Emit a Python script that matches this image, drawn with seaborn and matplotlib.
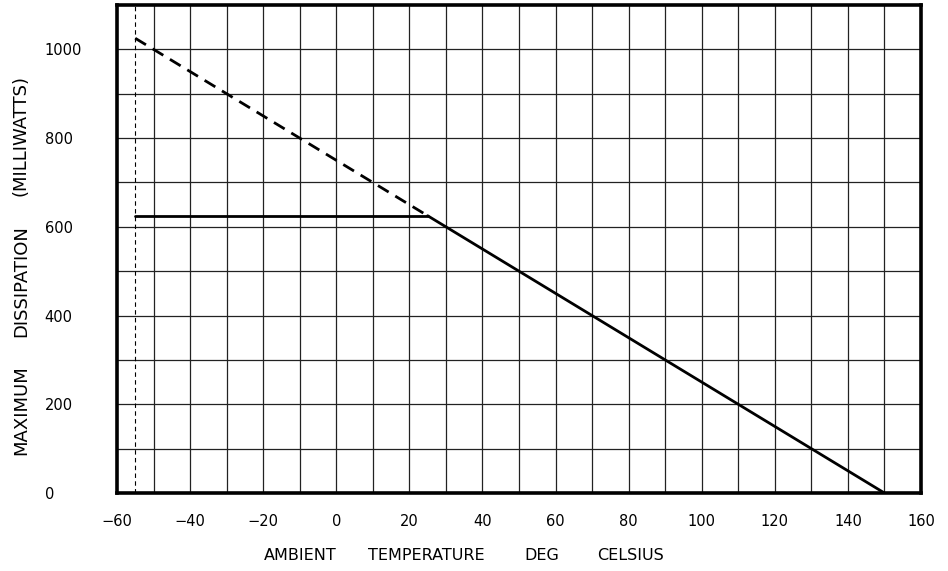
import matplotlib
matplotlib.use("Agg")
import matplotlib.pyplot as plt
import seaborn as sns
import pandas as pd
import numpy as np

# Data
temp_derate = [25, 150]
power_derate = [625, 0]
temp_flat = [-55, 25]
power_flat = [625, 625]
temp_extrap = [-55, 25]
power_extrap = [1025, 625]
min_temp = -55

x_ticks = [-60, -40, -20, 0, 20, 40, 60, 80, 100, 120, 140, 160]
y_ticks = [0, 200, 400, 600, 800, 1000]
x_label_words = ["AMBIENT", "TEMPERATURE", "DEG", "CELSIUS"]
y_label_words = ["MAXIMUM", "DISSIPATION", "(MILLIWATTS)"]

sns.set_theme(style="white")
plt.rcParams['font.family'] = ['DejaVu Sans']

W, H = 948, 571
fig = plt.figure(figsize=(W/100, H/100), dpi=100)
ax = fig.add_axes([117/W, 1-493/H, (921-117)/W, (493-5)/H])

df_d = pd.DataFrame({"t": temp_derate, "p": power_derate})
df_f = pd.DataFrame({"t": temp_flat, "p": power_flat})
df_e = pd.DataFrame({"t": temp_extrap, "p": power_extrap})

# grid
for xv in np.arange(-50, 160, 10):
    ax.axvline(xv, color="#222222", lw=0.9, zorder=1)
for yv in np.arange(100, 1100, 100):
    ax.axhline(yv, color="#222222", lw=0.9, zorder=1)
ax.axvline(min_temp, color="black", lw=0.8, ls=(0, (4, 3)), zorder=2)

sns.lineplot(data=df_e, x="t", y="p", ax=ax, color="black", lw=2.0,
             linestyle=(0, (4.5, 2.8)), zorder=3)
sns.lineplot(data=df_f, x="t", y="p", ax=ax, color="black", lw=2.0, zorder=3)
sns.lineplot(data=df_d, x="t", y="p", ax=ax, color="black", lw=2.0, zorder=3)

ax.set_xlim(-60, 160)
ax.set_ylim(0, 1100)
ax.set_xticks(x_ticks)
ax.set_xticklabels(["\u2212" + str(-v) if v < 0 else str(v) for v in x_ticks], fontsize=10.5)
ax.set_yticks(y_ticks)
ax.set_yticklabels([str(v) for v in y_ticks], fontsize=10.5, ha="left")
ax.tick_params(axis="x", length=0, pad=15, colors="black")
ax.tick_params(axis="y", length=0, pad=52, colors="black")

for s in ax.spines.values():
    s.set_visible(True)
    s.set_color("black")
    s.set_linewidth(2.6)

ax.set_xlabel("")
ax.set_ylabel("")

# axis titles, word by word (plotter-style wide spacing)
x_centers = [300, 426, 542, 631]
for w, cx in zip(x_label_words, x_centers):
    fig.text(cx/W, 1-555/H, w, fontsize=11.5, ha="center", va="center", color="black")
y_centers = [410, 281, 135]
for w, cy in zip(y_label_words, y_centers):
    fig.text(21/W, 1-cy/H, w, fontsize=13, ha="center", va="center",
             rotation=90, color="black")

fig.savefig("out.png", dpi=100)
